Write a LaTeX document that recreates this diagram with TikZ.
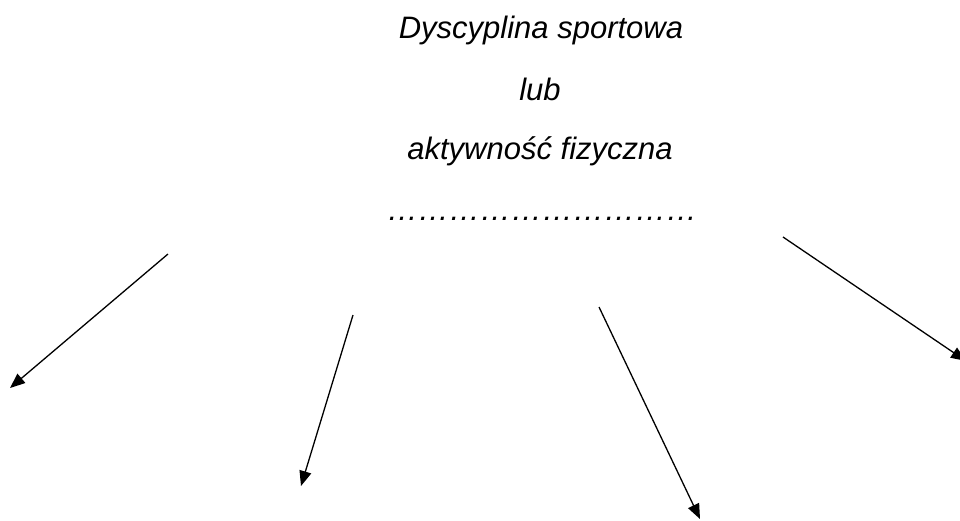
\documentclass[tikz,border=0pt]{standalone}
\usepackage{fontspec}
\setmainfont{Liberation Sans}
\usetikzlibrary{arrows.meta}
\tikzset{
  lbl/.style={anchor=base, inner sep=0pt, font=\fontsize{31}{37}\selectfont\itshape},
  arr/.style={line width=1.3pt, -{Triangle[length=15pt,width=12pt]}}
}
\begin{document}
\begin{tikzpicture}[x=1pt,y=-1pt]
\useasboundingbox (0,0) rectangle (960,520);
\clip (0,0) rectangle (960,520);
\node[lbl] (t1) at (541,38) {Dyscyplina sportowa};
\node[lbl] (t2) at (540,100) {lub};
\node[lbl] (t3) at (540,159) {aktywność fizyczna};
\node[lbl] (t4) at (542,220) {…………………………};
\coordinate (a1s) at (168,254);
\coordinate (a1e) at (10,388);
\coordinate (a2s) at (353,315);
\coordinate (a2e) at (301,486);
\coordinate (a3s) at (599,307);
\coordinate (a3e) at (700,519);
\coordinate (a4s) at (783,237);
\coordinate (a4e) at (966,361);
\draw[arr] (a1s) -- (a1e);
\draw[arr] (a2s) -- (a2e);
\draw[arr] (a3s) -- (a3e);
\draw[arr] (a4s) -- (a4e);
\end{tikzpicture}
\end{document}
